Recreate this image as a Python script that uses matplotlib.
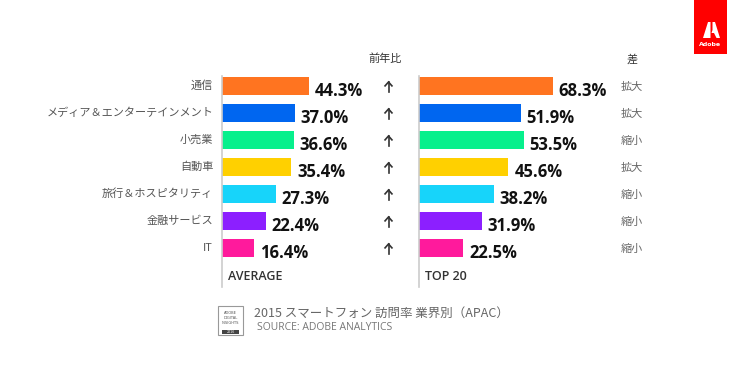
import matplotlib.pyplot as plt
from matplotlib.patches import Rectangle, Polygon

plt.rcParams['font.family'] = ['Noto Sans CJK JP', 'DejaVu Sans']

# data
industries = ['通信', 'メディア＆エンターテインメント', '小売業', '自動車',
              '旅行＆ホスピタリティ', '金融サービス', 'IT']
average = [44.3, 37.0, 36.6, 35.4, 27.3, 22.4, 16.4]
top20 = [68.3, 51.9, 53.5, 45.6, 38.2, 31.9, 22.5]
gap = ['拡大', '拡大', '縮小', '拡大', '縮小', '縮小', '縮小']
colors = ['#FF7420', '#0066F0', '#06F08C', '#FFD000', '#17D4FA', '#8C1FFF', '#FF1A9C']

W, H = 750, 367
fig = plt.figure(figsize=(7.5, 3.67), dpi=100)
fig.patch.set_facecolor('white')

px = 1.96  # pixels per percent
row = 27.0
y0 = 86.0  # centre of first row (px from top)
top_px, bot_px = 76, 287


def make_ax(left_px, xmax):
    w = xmax * px
    ax = fig.add_axes([left_px / W, 1 - bot_px / H, w / W, (bot_px - top_px) / H])
    ax.set_xlim(0, xmax)
    ax.set_ylim((bot_px - y0) / row, (top_px - y0) / row)
    for s in ['top', 'right', 'bottom']:
        ax.spines[s].set_visible(False)
    ax.spines['left'].set_color('#cccccc')
    ax.spines['left'].set_linewidth(1.2)
    ax.set_xticks([])
    ax.set_yticks([])
    ax.patch.set_alpha(0)
    return ax


def draw(ax, values, label):
    ys = range(len(values))
    ax.barh(ys, values, height=0.7, color=colors)
    for y, v in zip(ys, values):
        ax.text(v + 3.0, y + 0.2, f'{v:.1f}%', va='center', ha='left',
                fontsize=12, fontweight='bold', color='#111111',
                family='Open Sans', clip_on=False)
    ax.text(3, 7.05, label, va='center', ha='left', fontsize=9,
            fontweight='semibold', color='#333333', family='Open Sans')


axl = make_ax(222, 50)
draw(axl, average, 'AVERAGE')
for y, name in enumerate(industries):
    axl.text(-4.5, y, name, ha='right', va='center', fontsize=8,
             color='#555555', clip_on=False)

axr = make_ax(419, 70)
draw(axr, top20, 'TOP 20')

# year-on-year arrows and gap labels
for i in range(len(industries)):
    yc = y0 + i * row
    fig.patches.append(Polygon([(384.5 / W, 1 - (yc + 0.5) / H), (388.5 / W, 1 - (yc - 4) / H),
                                (392.5 / W, 1 - (yc + 0.5) / H)], closed=False, fill=False,
                               edgecolor='#333333', linewidth=1.2, transform=fig.transFigure))
    fig.lines.append(plt.Line2D([388.5 / W, 388.5 / W], [1 - (yc - 4) / H, 1 - (yc + 6) / H],
                                color='#333333', linewidth=1.2, transform=fig.transFigure))
    fig.text(632 / W, 1 - (yc + 1) / H, gap[i], ha='center', va='center',
             fontsize=8, color='#666666')

fig.text(385 / W, 1 - 59 / H, '前年比', ha='center', va='center', fontsize=8, color='#333333')
fig.text(632 / W, 1 - 59 / H, '差', ha='center', va='center', fontsize=8, color='#333333')

# footer
fig.text(254 / W, 1 - 313 / H, '2015 スマートフォン 訪問率 業界別（APAC）',
         ha='left', va='center', fontsize=9, color='#666666')
fig.text(257 / W, 1 - 328 / H, 'SOURCE: ADOBE ANALYTICS', ha='left', va='center',
         fontsize=7.5, color='#777777', family='Open Sans')

# badge
fig.patches.append(Rectangle((218 / W, 1 - 335 / H), 25 / W, 29 / H, transform=fig.transFigure,
                             facecolor='white', edgecolor='#999999', linewidth=0.8))
fig.patches.append(Rectangle((222 / W, 1 - 334 / H), 17 / W, 4 / H, transform=fig.transFigure,
                             facecolor='#444444', edgecolor='none'))
fig.text(230.5 / W, 1 - 318 / H, 'ADOBE\nDIGITAL\nINSIGHTS', ha='center', va='center',
         fontsize=2.6, color='#555555', family='DejaVu Sans', linespacing=1.2)
fig.text(230.5 / W, 1 - 332 / H, '2016', ha='center', va='center',
         fontsize=2.3, color='white', family='DejaVu Sans')

# Adobe logo
fig.patches.append(Rectangle((694 / W, 1 - 54 / H), 33 / W, 54 / H, transform=fig.transFigure,
                             facecolor='#FF0000', edgecolor='none'))
fig.patches.append(Polygon([(703 / W, 1 - 38 / H), (708 / W, 1 - 22 / H), (710.5 / W, 1 - 22 / H),
                            (710.5 / W, 1 - 38 / H)], closed=True, transform=fig.transFigure,
                           facecolor='white', edgecolor='none'))
fig.patches.append(Polygon([(712.5 / W, 1 - 22 / H), (715 / W, 1 - 22 / H), (720 / W, 1 - 38 / H),
                            (716.5 / W, 1 - 38 / H), (714 / W, 1 - 33 / H), (711.5 / W, 1 - 33 / H),
                            (712.5 / W, 1 - 30 / H)], closed=True, transform=fig.transFigure,
                           facecolor='white', edgecolor='none'))
fig.text(710.5 / W, 1 - 44 / H, 'Adobe', ha='center', va='center', fontsize=4.5,
         color='white', fontweight='bold', family='DejaVu Sans')

fig.savefig('out.png', dpi=100)
